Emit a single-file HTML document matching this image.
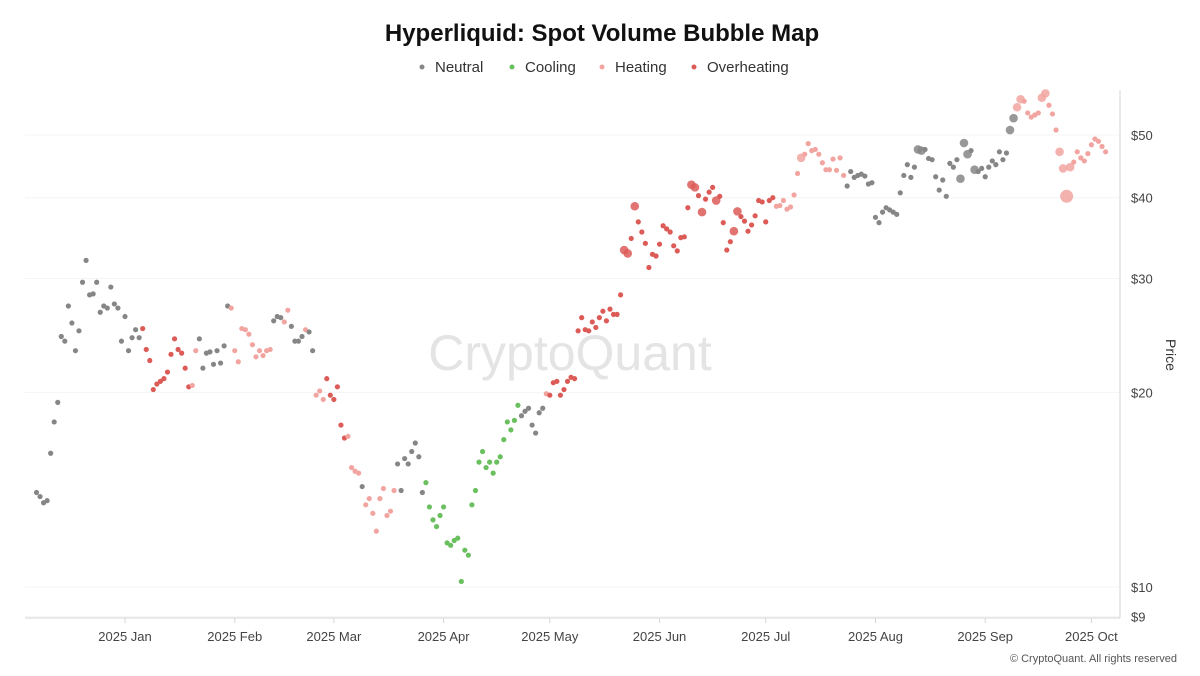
<!DOCTYPE html>
<html><head><meta charset="utf-8"><style>
body{margin:0;background:#fff;width:1200px;height:676px;overflow:hidden;font-family:"Liberation Sans",sans-serif}
svg{display:block}
</style></head><body>
<svg id="chart" width="1200" height="676" xmlns="http://www.w3.org/2000/svg">
<text x="602" y="41" text-anchor="middle" font-size="24" font-weight="bold" fill="#111">Hyperliquid: Spot Volume Bubble Map</text>
<g font-size="15" fill="#333">
<g><circle cx="422" cy="67" r="2.5" fill="#868686"/><text x="435" y="72">Neutral</text></g>
<g><circle cx="512" cy="67" r="2.5" fill="#6abf5e"/><text x="525" y="72">Cooling</text></g>
<g><circle cx="602" cy="67" r="2.5" fill="#f2a5a0"/><text x="615" y="72">Heating</text></g>
<g><circle cx="694" cy="67" r="2.5" fill="#dc5b57"/><text x="707" y="72">Overheating</text></g>
</g>
<text x="570" y="370" text-anchor="middle" font-size="50" fill="#e4e4e4">CryptoQuant</text>
<g id="grid"></g>
<line x1="1120" y1="90" x2="1120" y2="618" stroke="#d6d6d6"/>
<line x1="25" y1="618" x2="1120" y2="618" stroke="#d6d6d6"/>
<g id="ticks" font-size="13" fill="#444"></g>
<text transform="translate(1166,355) rotate(90)" text-anchor="middle" font-size="14" fill="#333">Price</text>
<g id="points"></g>
<text x="1177" y="662" text-anchor="end" font-size="11" fill="#555">© CryptoQuant. All rights reserved</text>
</svg>
<script>
const startDay = -25;
const prices = [14.0,13.8,13.5,13.6,16.1,18,19.3,24.4,24,27.2,25.6,23.2,24.9,29.6,32,28.3,28.4,29.6,26.6,27.2,27,29.1,27.4,27,24,26.2,23.2,24.3,25,24.3,
25.1,23.3,22.4,20.2,20.6,20.8,21,21.5,22.9,24.2,23.3,23,21.8,20.4,20.5,23.2,24.2,21.8,23,23.1,22.1,23.2,22.2,23.6,27.2,27,23.2,22.3,25.1,25,
24.6,23.7,22.7,23.2,22.8,23.2,23.3,25.8,26.2,26.1,25.7,26.8,25.3,24,24,24.4,25,24.8,23.2,19.8,20.1,19.5,21,19.8,19.5,20.4,17.8,17,17.1,15.3,
15.1,15,14.3,13.4,13.7,13,12.2,13.7,14.2,12.9,13.1,14.1,15.5,14.1,15.8,15.5,16.2,16.7,15.9,14,14.5,13.3,12.7,12.4,12.9,13.3,11.7,11.6,11.8,11.9,
10.2,11.4,11.2,13.4,14.1,15.6,16.2,15.3,15.6,15,15.6,15.9,16.9,18,17.5,18.1,19.1,18.4,18.7,18.9,17.8,17.3,18.6,18.9,19.9,19.8,20.7,20.8,19.8,20.2,
20.8,21.1,21,24.9,26.1,25,24.9,25.7,25.2,26.1,26.7,25.8,26.9,26.4,26.4,28.3,33.2,32.8,34.6,38.8,36.7,35.4,34,31.2,32.7,32.5,33.9,36.2,35.8,35.4,
33.7,33.1,34.7,34.8,38.6,41.9,41.5,40.3,38.0,39.8,40.8,41.5,39.6,40.2,36.6,33.2,34.2,35.5,38.1,37.4,36.8,35.5,36.3,37.5,39.6,39.4,36.7,39.6,40,38.8,
38.9,39.6,38.4,38.7,40.4,43.6,46.1,46.7,48.5,47.3,47.5,46.7,45.3,44.2,44.2,45.9,44.1,46.1,43.3,41.7,43.9,43,43.3,43.5,43.2,42,42.2,37.3,36.6,38,
38.6,38.3,38,37.7,40.7,43.3,45,43,44.6,47.5,47.3,47.5,46,45.8,43.1,41.1,42.6,40.2,45.2,44.6,45.8,42.8,48.6,46.7,47.3,44.2,43.9,44.4,43.1,44.6,
45.6,45,47.1,45.8,46.9,50.9,53.1,55.2,56.8,56.4,54.1,53.3,53.7,54.1,57.1,58,55.6,53.9,50.9,47.1,44.4,40.2,44.6,45.4,47.1,46.1,45.6,46.8,48.3,49.3,
48.9,48,47.1];
const categories = "NNNNNNNNNNNNNNNNNNNNNNNNNNNNNNOOOOOOOOOOOOOOHHNNNNNNNNNHHHHHHHHHHHHNNNHHNNNNHNNHHHOOOOOOHHHHNHHHHHHHHHNNNNNNNNCCCCCCCCCCCCCCCCCCCCCCCCCCCNNNNNNNHOOOOOOOOOOOOOOOOOOOOOOOOOOOOOOOOOOOOOOOOOOOOOOOOOOOOOOOOOOOOOOOOHHHHHHHHHHHHHHHHHHHHNNNNNNNNNNNNNNNNNNNNNNNNNNNNNNNNNNNNNNNNNNNNNNNNHHHHHHHHHHHHHHHHHHHHHHHHHHH";
const volumeLevels = {166:2,167:2,169:2,185:2,186:2,188:2,192:2,197:2,198:2,216:2,249:2,250:2,261:2,262:2,263:2,265:2,275:2,276:2,277:2,278:2,284:2,285:2,289:2,290:2,291:3,292:2};
const yTicks = [9,10,20,30,40,50];
const yTickLabels = ["$9","$10","$20","$30","$40","$50"];
const xTickMonths = ["2025 Jan","2025 Feb","2025 Mar","2025 Apr","2025 May","2025 Jun","2025 Jul","2025 Aug","2025 Sep","2025 Oct"];
const xTickDays = [0,31,59,90,120,151,181,212,243,273];

const colors = {N:"#868686",C:"#6abf5e",H:"#f2a5a0",O:"#dc5b57"};
const names = {N:"neutral",C:"cooling",H:"heating",O:"overheating"};
const radii = {1:2.6,2:4.3,3:6.5};
function xScale(day){return 125+day*3.54;}
function yScale(p){return 587-(Math.log10(p)-1)*646.6;}
const NS="http://www.w3.org/2000/svg";
const grid=document.getElementById('grid'), ticks=document.getElementById('ticks'), pts=document.getElementById('points');
yTicks.forEach((v,i)=>{
  const y=yScale(v);
  const l=document.createElementNS(NS,'line');
  
  
  l.setAttribute('x1',25);l.setAttribute('x2',1120);l.setAttribute('y1',y);l.setAttribute('y2',y);
  l.setAttribute('stroke','#f4f4f4');
  grid.appendChild(l);
  const t=document.createElementNS(NS,'text');
  
  
  t.setAttribute('x',1131);t.setAttribute('y',y+5);t.textContent=yTickLabels[i];
  ticks.appendChild(t);
});
xTickDays.forEach((d,i)=>{
  const x=xScale(d);
  const l=document.createElementNS(NS,'line');
  
  
  l.setAttribute('x1',x);l.setAttribute('x2',x);l.setAttribute('y1',618);l.setAttribute('y2',623);l.setAttribute('stroke','#d6d6d6');
  ticks.appendChild(l);
  const t=document.createElementNS(NS,'text');
  
  
  t.setAttribute('x',x);t.setAttribute('y',641);t.setAttribute('text-anchor','middle');t.textContent=xTickMonths[i];
  ticks.appendChild(t);
});
prices.forEach((p,i)=>{
  const c=categories[i]||'N';
  const lvl=volumeLevels[i]||1;
  const el=document.createElementNS(NS,'circle');
  
  
  el.setAttribute('cx',xScale(startDay+i));el.setAttribute('cy',yScale(p));el.setAttribute('r',radii[lvl]);
  el.setAttribute('fill',colors[c]);el.setAttribute('fill-opacity',lvl>1?0.85:1);
  pts.appendChild(el);
});
</script>
</body></html>
